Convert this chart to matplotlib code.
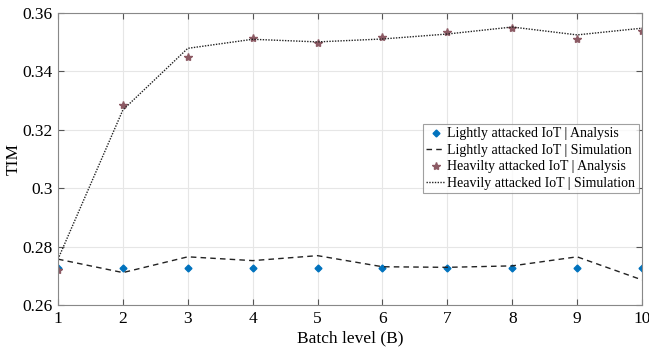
import numpy as np
import matplotlib
matplotlib.use('Agg')
import matplotlib.pyplot as plt

plt.rcParams['font.family'] = ['Liberation Serif', 'DejaVu Serif']

batch = [1, 2, 3, 4, 5, 6, 7, 8, 9, 10]
light_analysis = [0.2728, 0.2728, 0.2728, 0.2728, 0.2728, 0.2728, 0.2728, 0.2728, 0.2728, 0.2728]
light_sim = [0.2757, 0.2711, 0.2765, 0.2752, 0.2769, 0.2731, 0.2729, 0.2734, 0.2765, 0.2686]
heavy_analysis = [0.2720, 0.3285, 0.3448, 0.3515, 0.3496, 0.3519, 0.3535, 0.3549, 0.3511, 0.3540]
heavy_sim = [0.2757, 0.3268, 0.3479, 0.3510, 0.3501, 0.3511, 0.3528, 0.3552, 0.3525, 0.3548]

fig = plt.figure(figsize=(6.49, 3.52), dpi=100)
ax = fig.add_axes([58/649, 47/352, 584/649, 292/352])

ax.plot(batch, light_analysis, linestyle='none', marker='D', markersize=3.5,
        color='#0072BD', label='Lightly attacked IoT | Analysis')
ax.plot(batch, light_sim, linestyle=(0, (4, 3)), color='#222222', linewidth=1.0,
        label='Lightly attacked IoT | Simulation')
ax.plot(batch, heavy_analysis, linestyle='none', marker='*', markersize=6,
        color='#8c5a64', label='Heavilty attacked IoT | Analysis')
ax.plot(batch, heavy_sim, linestyle=(0, (1, 1)), color='#222222', linewidth=1.0,
        label='Heavily attacked IoT | Simulation')

ax.set_xlim(1, 10)
ax.set_ylim(0.26, 0.36)
ax.set_xticks(batch)
ax.set_yticks([0.26, 0.28, 0.30, 0.32, 0.34, 0.36])
ax.set_yticklabels(['0.26', '0.28', '0.3', '0.32', '0.34', '0.36'])
ax.grid(True, color='#e6e6e6', linewidth=0.8)
ax.set_axisbelow(True)
for s in ax.spines.values():
    s.set_color('#888888')
    s.set_linewidth(0.8)
ax.tick_params(direction='in', top=True, right=True, labelsize=12.5, length=4,
               color='#555555', pad=4)
ax.set_xlabel('Batch level (B)', fontsize=12.5, labelpad=3)
ax.set_ylabel('TIM', fontsize=12.5)
ax.yaxis.set_label_coords(-0.062, 0.5)

leg = ax.legend(loc='upper left', bbox_to_anchor=(365/584, 1 - 111/292),
                fontsize=10, frameon=True, fancybox=False, edgecolor='#888888',
                handlelength=1.3, handletextpad=0.2, borderpad=0.25,
                labelspacing=0.25, borderaxespad=0)
leg.get_frame().set_linewidth(0.8)

fig.savefig('out.png', dpi=100)
